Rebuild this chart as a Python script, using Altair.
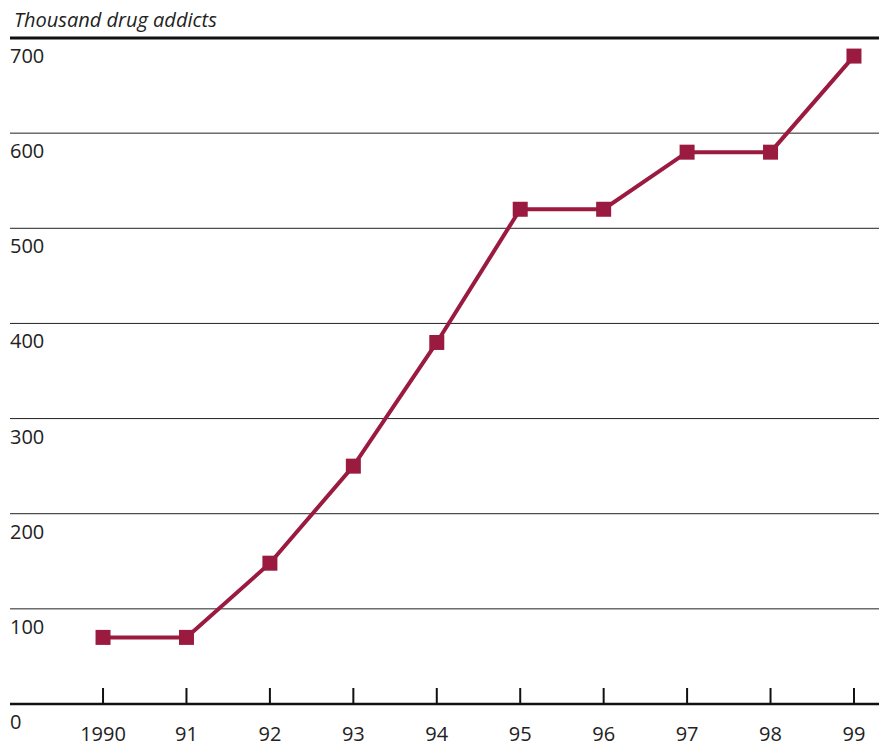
import altair as alt
import pandas as pd

years = [1990, 1991, 1992, 1993, 1994, 1995, 1996, 1997, 1998, 1999]
year_labels = ["1990", "91", "92", "93", "94", "95", "96", "97", "98", "99"]
addicts = [70, 70, 148, 250, 380, 520, 520, 580, 580, 681]
grid_values = [100, 200, 300, 400, 500, 600]
y_label_values = [0, 100, 200, 300, 400, 500, 600, 700]
y_label_texts = ["0", "100", "200", "300", "400", "500", "600", "700"]

W = 869
H = 666
FONT = "Open Sans"
TEXT_COLOR = "#222222"
LINE_COLOR = "#9A1A40"

data = pd.DataFrame({"year": years, "value": addicts, "label": year_labels})
grid = pd.DataFrame({"value": grid_values})
top = pd.DataFrame({"value": [700]})
zero = pd.DataFrame({"value": [0]})
ylab = pd.DataFrame({"value": y_label_values, "text": y_label_texts})

xs = alt.Scale(domain=[1988.885, 1999.300], nice=False, zero=False)
ys = alt.Scale(domain=[0, 700], nice=False)

X = alt.X("year:Q", scale=xs, axis=None)
Y = alt.Y("value:Q", scale=ys, axis=None)

grid_layer = alt.Chart(grid).mark_rule(color="#222222", strokeWidth=1).encode(y=Y)
top_layer = alt.Chart(top).mark_rule(color="#111111", strokeWidth=3).encode(y=Y)
zero_layer = alt.Chart(zero).mark_rule(color="#111111", strokeWidth=2.5).encode(y=Y)

ticks = alt.Chart(data).mark_rule(color="#111111", strokeWidth=2).encode(
    x=X, y=alt.value(H), y2=alt.value(H - 16)
)

line = alt.Chart(data).mark_line(color=LINE_COLOR, strokeWidth=4).encode(x=X, y=Y)
points = alt.Chart(data).mark_point(
    shape="square", filled=True, size=225, color=LINE_COLOR, opacity=1
).encode(x=X, y=Y)

ylabels = alt.Chart(ylab).mark_text(
    align="left", baseline="middle", dy=19, font=FONT, fontSize=20, color=TEXT_COLOR
).encode(x=alt.value(0), y=Y, text="text:N")

xlabels = alt.Chart(data).mark_text(
    align="center", baseline="middle", font=FONT, fontSize=20, color=TEXT_COLOR
).encode(x=X, y=alt.value(H + 31), text="label:N")

chart = alt.layer(
    grid_layer, top_layer, zero_layer, ticks, line, points, ylabels, xlabels
).properties(
    width=W,
    height=H,
    autosize=alt.AutoSizeParams(type="none"),
    padding={"left": 2, "top": 30, "right": 0, "bottom": 45},
    title=alt.TitleParams(
        "Thousand drug addicts",
        anchor="start",
        frame="group",
        orient="top",
        offset=6,
        dx=4,
        font=FONT,
        fontSize=20,
        fontStyle="italic",
        fontWeight="normal",
        color=TEXT_COLOR,
    ),
).configure_view(stroke=None)

chart.save("out.html", embed_options={"renderer": "svg", "actions": False})
